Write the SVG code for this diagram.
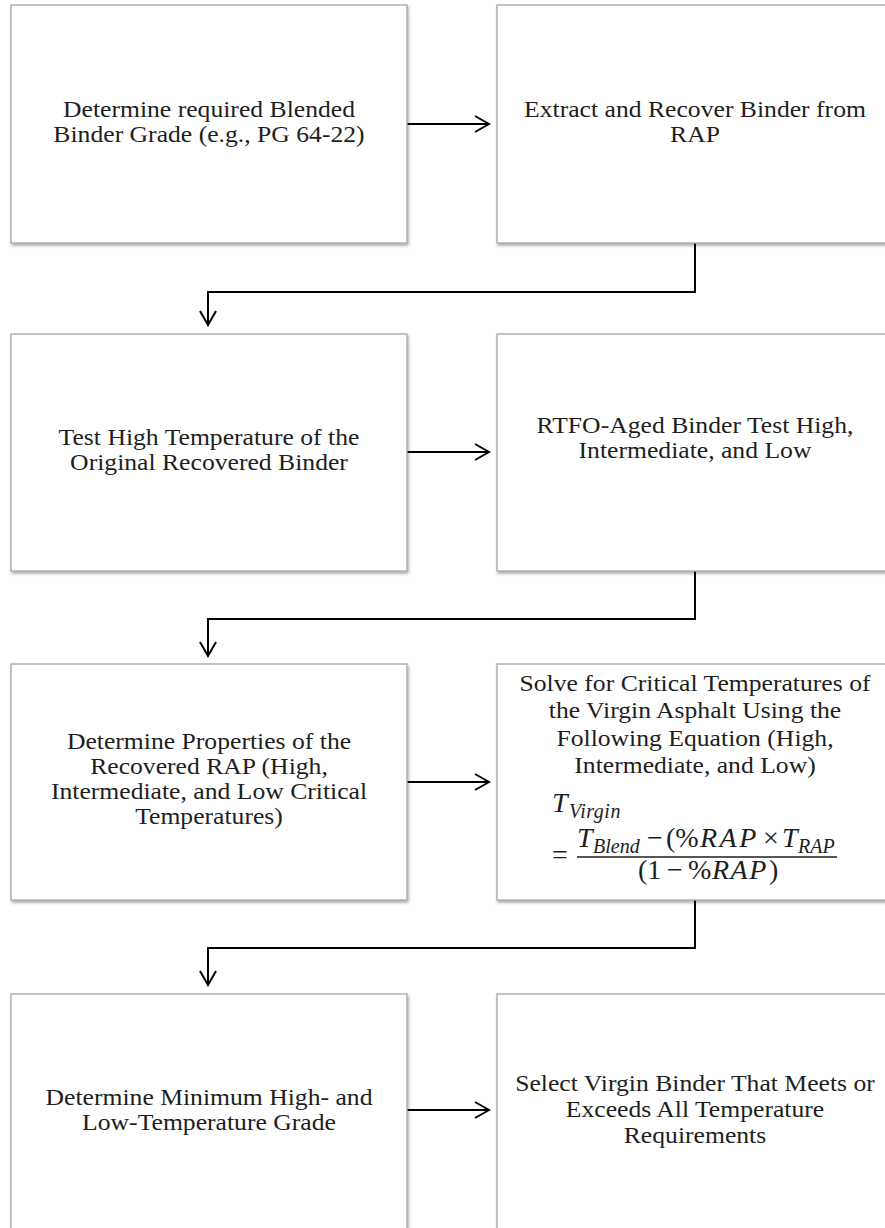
<svg xmlns="http://www.w3.org/2000/svg" width="885" height="1228" viewBox="0 0 885 1228">
<style>
.box{fill:#fff;stroke:#a6a6a6;stroke-width:1.3;filter:url(#sh)}
.t{font-family:"Liberation Serif","Times New Roman",serif;font-size:22.7px;fill:#1e1e1e;text-anchor:middle}
.c{fill:none;stroke:#000;stroke-width:2;marker-end:url(#ah)}
.m{font-family:"Liberation Serif","Times New Roman",serif;font-style:italic;font-size:28px;fill:#1e1e1e}
.s{font-family:"Liberation Serif","Times New Roman",serif;font-style:italic;font-size:20px;fill:#1e1e1e}
.u{font-family:"Liberation Serif","Times New Roman",serif;font-size:28px;fill:#1e1e1e}
</style>
<defs>
<filter id="sh" x="-5%" y="-5%" width="115%" height="115%"><feDropShadow dx="1" dy="2" stdDeviation="1.5" flood-color="#000" flood-opacity="0.35"/></filter>
<marker id="ah" markerUnits="userSpaceOnUse" markerWidth="20" markerHeight="20" refX="0" refY="0" viewBox="-16 -10 20 20" orient="auto"><path d="M-14,-8 L0,0 L-14,8" fill="none" stroke="#000" stroke-width="2"/></marker>
</defs>
<rect width="885" height="1228" fill="#fff"/>
<g id="connectors">
<path class="c" d="M407,124 H489"/>
<path class="c" d="M695,243 V292 H208 V325"/>
<path class="c" d="M407,452 H489"/>
<path class="c" d="M695,571 V619 H208 V656"/>
<path class="c" d="M407,782 H489"/>
<path class="c" d="M695,900 V948 H208 V985"/>
<path class="c" d="M407,1110 H489"/>
</g>
<g id="n1"><rect class="box" x="11" y="5" width="396" height="238"/>
<text class="t" transform="translate(209 0) scale(1.13 1)"><tspan x="0" y="117">Determine required Blended</tspan><tspan x="0" y="142">Binder Grade (e.g., PG 64-22)</tspan></text></g>
<g id="n2"><rect class="box" x="497" y="5" width="396" height="238"/>
<text class="t" transform="translate(695 0) scale(1.13 1)"><tspan x="0" y="117">Extract and Recover Binder from</tspan><tspan x="0" y="142">RAP</tspan></text></g>
<g id="n3"><rect class="box" x="11" y="334" width="396" height="237"/>
<text class="t" transform="translate(209 0) scale(1.13 1)"><tspan x="0" y="445">Test High Temperature of the</tspan><tspan x="0" y="470">Original Recovered Binder</tspan></text></g>
<g id="n4"><rect class="box" x="497" y="334" width="396" height="237"/>
<text class="t" transform="translate(695 0) scale(1.13 1)"><tspan x="0" y="433">RTFO-Aged Binder Test High,</tspan><tspan x="0" y="458">Intermediate, and Low</tspan></text></g>
<g id="n5"><rect class="box" x="11" y="664" width="396" height="236"/>
<text class="t" transform="translate(209 0) scale(1.13 1)"><tspan x="0" y="749">Determine Properties of the</tspan><tspan x="0" y="774">Recovered RAP (High,</tspan><tspan x="0" y="799">Intermediate, and Low Critical</tspan><tspan x="0" y="824">Temperatures)</tspan></text></g>
<g id="n6"><rect class="box" x="497" y="664" width="396" height="236"/>
<text class="t" transform="translate(695 0) scale(1.13 1)"><tspan x="0" y="691">Solve for Critical Temperatures of</tspan><tspan x="0" y="718.5">the Virgin Asphalt Using the</tspan><tspan x="0" y="746">Following Equation (High,</tspan><tspan x="0" y="773.5">Intermediate, and Low)</tspan></text>
<text class="m" x="552" y="812">T</text><text class="s" x="569" y="818" letter-spacing="0.5">Virgin</text>
<text class="u" x="552" y="864">=</text>
<text class="m" x="577" y="847">T</text><text class="s" x="593" y="853">Blend</text>
<text class="u" x="647" y="847" font-size="24">−</text>
<text class="u" x="666" y="847">(%</text>
<text class="m" x="700" y="847" letter-spacing="2.5">RAP</text>
<text class="u" x="763" y="847">×</text>
<text class="m" x="782" y="847">T</text><text class="s" x="798" y="853">RAP</text>
<line x1="577" y1="857" x2="837" y2="857" stroke="#1e1e1e" stroke-width="1.3"/>
<text class="u" x="638" y="879">(1</text>
<text class="u" x="667" y="879">−</text>
<text class="u" x="688" y="879">%</text>
<text class="m" x="712" y="879" letter-spacing="1.5">RAP</text>
<text class="u" x="769" y="879">)</text></g>
<g id="n7"><rect class="box" x="11" y="994" width="396" height="240"/>
<text class="t" transform="translate(209 0) scale(1.13 1)"><tspan x="0" y="1105">Determine Minimum High- and</tspan><tspan x="0" y="1130">Low-Temperature Grade</tspan></text></g>
<g id="n8"><rect class="box" x="497" y="994" width="396" height="240"/>
<text class="t" transform="translate(695 0) scale(1.13 1)"><tspan x="0" y="1091">Select Virgin Binder That Meets or</tspan><tspan x="0" y="1117">Exceeds All Temperature</tspan><tspan x="0" y="1143">Requirements</tspan></text></g>
</svg>
